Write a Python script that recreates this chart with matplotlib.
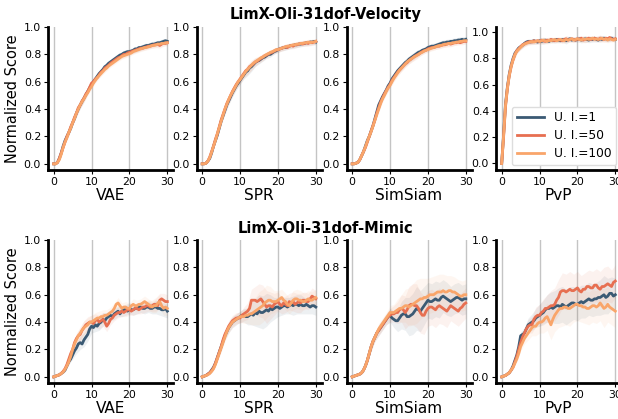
import numpy as np
import matplotlib
matplotlib.use("Agg")
import matplotlib.pyplot as plt

plt.rcParams['font.family'] = ['DejaVu Sans']

methods = ["VAE", "SPR", "SimSiam", "PvP"]
series_labels = ["U. I.=1", "U. I.=50", "U. I.=100"]
row_titles = ["LimX-Oli-31dof-Velocity", "LimX-Oli-31dof-Mimic"]
x_ticks = [0, 10, 20, 30]
y_ticks = [0.0, 0.2, 0.4, 0.6, 0.8, 1.0]
step = 0.5  # iterations (x) between recorded points

# ---------------- Velocity (top row) ----------------
vel_vae_1 = [0.00,0.00,0.01,0.04,0.08,0.13,0.17,0.20,0.23,0.26,
             0.30,0.33,0.37,0.40,0.43,0.455,0.48,0.505,0.53,0.555,
             0.58,0.60,0.62,0.64,0.66,0.675,0.69,0.71,0.72,0.735,
             0.745,0.755,0.765,0.775,0.785,0.795,0.80,0.81,0.815,0.82,
             0.82,0.825,0.83,0.84,0.84,0.85,0.85,0.855,0.86,0.865,
             0.865,0.87,0.875,0.875,0.88,0.885,0.885,0.89,0.895,0.90,
             0.895]
vel_vae_50 = [0.00,0.00,0.01,0.04,0.08,0.12,0.16,0.20,0.23,0.27,
              0.30,0.34,0.37,0.41,0.43,0.46,0.48,0.51,0.53,0.56,
              0.59,0.60,0.62,0.63,0.65,0.67,0.68,0.70,0.71,0.72,
              0.735,0.745,0.755,0.765,0.775,0.78,0.79,0.80,0.80,0.81,
              0.815,0.82,0.825,0.83,0.835,0.84,0.845,0.845,0.85,0.855,
              0.86,0.86,0.865,0.87,0.87,0.875,0.865,0.875,0.88,0.88,
              0.885]
vel_vae_100 = [0.00,0.00,0.01,0.03,0.07,0.12,0.16,0.19,0.23,0.26,
               0.30,0.33,0.37,0.40,0.43,0.455,0.475,0.50,0.52,0.545,
               0.565,0.59,0.61,0.63,0.645,0.66,0.675,0.69,0.70,0.715,
               0.725,0.735,0.745,0.755,0.765,0.775,0.785,0.79,0.795,0.80,
               0.805,0.81,0.82,0.825,0.83,0.835,0.84,0.845,0.85,0.85,
               0.855,0.86,0.865,0.865,0.87,0.875,0.875,0.88,0.88,0.885,
               0.885]

vel_spr_1 = [0.00,0.00,0.005,0.02,0.04,0.08,0.13,0.17,0.21,0.26,
             0.31,0.35,0.39,0.43,0.46,0.49,0.52,0.545,0.57,0.59,
             0.61,0.63,0.65,0.67,0.68,0.70,0.71,0.725,0.74,0.75,
             0.755,0.765,0.775,0.78,0.79,0.80,0.80,0.81,0.82,0.825,
             0.835,0.84,0.845,0.85,0.85,0.855,0.86,0.865,0.865,0.87,
             0.87,0.875,0.875,0.88,0.88,0.885,0.885,0.89,0.89,0.895,
             0.89]
vel_spr_50 = [0.00,0.00,0.005,0.02,0.05,0.09,0.13,0.18,0.22,0.27,
              0.32,0.36,0.40,0.44,0.47,0.50,0.53,0.555,0.58,0.60,
              0.62,0.64,0.66,0.68,0.69,0.71,0.72,0.73,0.745,0.75,
              0.76,0.77,0.78,0.79,0.795,0.805,0.81,0.815,0.825,0.83,
              0.835,0.84,0.845,0.85,0.855,0.85,0.86,0.865,0.86,0.87,
              0.87,0.875,0.88,0.875,0.88,0.885,0.88,0.89,0.885,0.89,
              0.895]
vel_spr_100 = [0.00,0.00,0.005,0.02,0.045,0.085,0.13,0.17,0.22,0.265,
               0.31,0.355,0.40,0.435,0.47,0.50,0.525,0.55,0.575,0.60,
               0.615,0.635,0.655,0.675,0.69,0.705,0.72,0.735,0.745,0.755,
               0.765,0.775,0.78,0.79,0.80,0.805,0.815,0.82,0.825,0.835,
               0.835,0.84,0.845,0.85,0.855,0.86,0.86,0.865,0.87,0.87,
               0.875,0.875,0.88,0.88,0.885,0.885,0.89,0.885,0.89,0.89,
               0.895]

vel_sim_1 = [0.00,0.00,0.005,0.01,0.03,0.06,0.09,0.13,0.17,0.20,
             0.24,0.28,0.33,0.38,0.43,0.46,0.49,0.515,0.54,0.57,
             0.59,0.62,0.64,0.66,0.68,0.695,0.71,0.725,0.74,0.75,
             0.765,0.775,0.785,0.795,0.805,0.815,0.82,0.83,0.835,0.84,
             0.85,0.855,0.86,0.86,0.865,0.87,0.875,0.88,0.885,0.885,
             0.89,0.89,0.895,0.895,0.90,0.90,0.905,0.905,0.91,0.905,
             0.91]
vel_sim_50 = [0.00,0.00,0.005,0.01,0.03,0.06,0.09,0.12,0.16,0.20,
              0.24,0.28,0.32,0.37,0.41,0.45,0.48,0.51,0.535,0.56,
              0.58,0.61,0.63,0.65,0.67,0.685,0.70,0.715,0.73,0.74,
              0.755,0.765,0.775,0.785,0.795,0.80,0.81,0.82,0.825,0.83,
              0.84,0.845,0.85,0.85,0.855,0.86,0.86,0.865,0.87,0.87,
              0.875,0.88,0.875,0.88,0.885,0.885,0.89,0.885,0.89,0.895,
              0.895]
vel_sim_100 = [0.00,0.00,0.005,0.01,0.03,0.06,0.09,0.125,0.165,0.20,
               0.235,0.275,0.32,0.36,0.40,0.44,0.475,0.50,0.53,0.555,
               0.575,0.60,0.625,0.645,0.665,0.685,0.70,0.715,0.73,0.745,
               0.755,0.765,0.775,0.785,0.79,0.80,0.81,0.815,0.825,0.83,
               0.835,0.84,0.845,0.85,0.855,0.86,0.865,0.865,0.87,0.875,
               0.875,0.88,0.88,0.885,0.885,0.89,0.89,0.895,0.895,0.90,
               0.90]

vel_pvp_1 = [0.00,0.22,0.45,0.58,0.68,0.75,0.80,0.84,0.86,0.88,
             0.89,0.90,0.915,0.925,0.93,0.925,0.93,0.935,0.93,0.925,
             0.935,0.93,0.935,0.94,0.935,0.93,0.94,0.935,0.94,0.945,
             0.94,0.935,0.945,0.94,0.935,0.945,0.95,0.94,0.945,0.94,
             0.945,0.95,0.94,0.945,0.95,0.945,0.94,0.95,0.945,0.955,
             0.945,0.94,0.95,0.945,0.955,0.95,0.945,0.95,0.955,0.945,
             0.945]
vel_pvp_50 = [0.00,0.20,0.43,0.57,0.67,0.74,0.79,0.83,0.86,0.875,
              0.89,0.905,0.91,0.92,0.925,0.93,0.925,0.935,0.93,0.935,
              0.93,0.94,0.935,0.93,0.94,0.935,0.945,0.94,0.935,0.94,
              0.945,0.94,0.935,0.945,0.95,0.94,0.945,0.95,0.945,0.94,
              0.95,0.945,0.955,0.94,0.945,0.95,0.955,0.945,0.95,0.955,
              0.95,0.945,0.955,0.95,0.945,0.955,0.95,0.96,0.95,0.945,
              0.95]
vel_pvp_100 = [0.00,0.21,0.44,0.57,0.67,0.74,0.79,0.83,0.855,0.87,
               0.885,0.90,0.91,0.915,0.92,0.925,0.93,0.925,0.93,0.935,
               0.93,0.935,0.94,0.935,0.93,0.94,0.935,0.94,0.945,0.935,
               0.94,0.945,0.94,0.935,0.945,0.94,0.945,0.95,0.94,0.945,
               0.95,0.945,0.94,0.95,0.945,0.95,0.945,0.95,0.955,0.945,
               0.95,0.945,0.95,0.955,0.945,0.95,0.94,0.95,0.945,0.94,
               0.945]

# ---------------- Mimic (bottom row) ----------------
mim_vae_1 = [0.00,0.005,0.01,0.015,0.025,0.035,0.05,0.08,0.11,0.13,
             0.16,0.19,0.21,0.24,0.25,0.24,0.27,0.29,0.31,0.35,
             0.37,0.36,0.38,0.37,0.39,0.40,0.42,0.41,0.43,0.44,
             0.45,0.44,0.46,0.47,0.48,0.46,0.48,0.49,0.49,0.48,
             0.50,0.49,0.49,0.50,0.50,0.51,0.51,0.50,0.50,0.51,
             0.51,0.50,0.50,0.51,0.51,0.50,0.50,0.49,0.49,0.50,
             0.48]
mim_vae_50 = [0.00,0.005,0.01,0.015,0.025,0.04,0.06,0.09,0.13,0.17,
              0.20,0.25,0.28,0.30,0.31,0.34,0.36,0.38,0.39,0.40,
              0.40,0.39,0.41,0.42,0.40,0.41,0.42,0.40,0.37,0.39,
              0.42,0.43,0.45,0.46,0.47,0.47,0.48,0.47,0.48,0.49,
              0.49,0.48,0.49,0.50,0.50,0.49,0.50,0.51,0.51,0.52,
              0.52,0.51,0.52,0.53,0.53,0.52,0.56,0.57,0.56,0.55,
              0.55]
mim_vae_100 = [0.00,0.005,0.01,0.015,0.025,0.035,0.055,0.08,0.11,0.15,
               0.20,0.24,0.27,0.30,0.32,0.34,0.36,0.37,0.38,0.40,
               0.40,0.41,0.42,0.43,0.43,0.44,0.44,0.45,0.45,0.46,
               0.47,0.48,0.50,0.53,0.54,0.52,0.50,0.51,0.51,0.50,
               0.50,0.52,0.53,0.52,0.52,0.53,0.53,0.54,0.55,0.54,
               0.53,0.52,0.51,0.52,0.52,0.54,0.55,0.52,0.50,0.51,
               0.50]

mim_spr_1 = [0.00,0.005,0.01,0.02,0.03,0.05,0.07,0.10,0.14,0.18,
             0.22,0.26,0.30,0.33,0.36,0.38,0.40,0.41,0.42,0.43,
             0.44,0.45,0.45,0.44,0.44,0.45,0.46,0.45,0.47,0.46,
             0.48,0.47,0.47,0.48,0.49,0.48,0.50,0.49,0.50,0.51,
             0.51,0.50,0.51,0.52,0.52,0.51,0.52,0.53,0.52,0.53,
             0.53,0.52,0.53,0.52,0.52,0.53,0.52,0.51,0.52,0.52,
             0.51]
mim_spr_50 = [0.00,0.005,0.01,0.02,0.03,0.045,0.065,0.10,0.14,0.18,
              0.22,0.27,0.31,0.34,0.37,0.39,0.41,0.42,0.43,0.43,
              0.43,0.45,0.46,0.47,0.48,0.50,0.56,0.56,0.56,0.55,
              0.56,0.57,0.55,0.53,0.51,0.52,0.52,0.51,0.53,0.54,
              0.55,0.53,0.52,0.54,0.53,0.52,0.55,0.54,0.55,0.53,
              0.54,0.55,0.54,0.56,0.56,0.55,0.55,0.57,0.59,0.58,
              0.57]
mim_spr_100 = [0.00,0.005,0.01,0.015,0.025,0.04,0.06,0.09,0.13,0.17,
               0.21,0.25,0.29,0.33,0.36,0.38,0.40,0.41,0.42,0.43,
               0.44,0.44,0.44,0.45,0.45,0.46,0.46,0.47,0.48,0.49,
               0.50,0.51,0.52,0.54,0.55,0.56,0.56,0.55,0.55,0.55,
               0.56,0.57,0.58,0.56,0.55,0.53,0.52,0.54,0.56,0.57,
               0.57,0.56,0.56,0.55,0.55,0.56,0.57,0.56,0.56,0.57,
               0.58]

mim_sim_1 = [0.00,0.005,0.01,0.015,0.02,0.03,0.05,0.08,0.12,0.17,
             0.22,0.26,0.29,0.32,0.34,0.36,0.38,0.40,0.42,0.44,
             0.45,0.43,0.42,0.41,0.41,0.43,0.45,0.46,0.46,0.44,
             0.44,0.45,0.46,0.48,0.50,0.49,0.48,0.50,0.52,0.54,
             0.56,0.55,0.55,0.56,0.57,0.56,0.56,0.58,0.59,0.58,
             0.57,0.56,0.55,0.56,0.57,0.58,0.58,0.57,0.56,0.57,
             0.57]
mim_sim_50 = [0.00,0.005,0.01,0.015,0.02,0.03,0.05,0.08,0.12,0.17,
              0.22,0.26,0.29,0.32,0.34,0.36,0.38,0.40,0.42,0.44,
              0.45,0.46,0.46,0.47,0.47,0.49,0.50,0.49,0.47,0.49,
              0.52,0.53,0.53,0.52,0.52,0.50,0.47,0.45,0.45,0.48,
              0.50,0.51,0.51,0.50,0.49,0.51,0.52,0.51,0.50,0.49,
              0.48,0.50,0.52,0.51,0.50,0.49,0.48,0.50,0.51,0.53,
              0.54]
mim_sim_100 = [0.00,0.005,0.01,0.015,0.02,0.03,0.05,0.08,0.12,0.17,
               0.22,0.26,0.29,0.32,0.35,0.37,0.39,0.41,0.43,0.45,
               0.47,0.47,0.47,0.48,0.49,0.50,0.50,0.51,0.52,0.52,
               0.51,0.52,0.53,0.54,0.55,0.56,0.57,0.57,0.58,0.58,
               0.59,0.60,0.60,0.60,0.61,0.62,0.62,0.62,0.63,0.62,
               0.62,0.63,0.63,0.62,0.62,0.61,0.60,0.59,0.59,0.60,
               0.60]

mim_pvp_1 = [0.00,0.005,0.01,0.02,0.03,0.05,0.08,0.12,0.16,0.22,
             0.30,0.31,0.32,0.35,0.38,0.39,0.40,0.41,0.43,0.44,
             0.45,0.46,0.47,0.49,0.50,0.50,0.51,0.50,0.51,0.52,
             0.52,0.51,0.53,0.52,0.51,0.52,0.53,0.54,0.54,0.53,
             0.53,0.54,0.55,0.54,0.55,0.56,0.57,0.56,0.56,0.57,
             0.57,0.58,0.58,0.59,0.60,0.58,0.59,0.61,0.61,0.59,
             0.60]
mim_pvp_50 = [0.00,0.005,0.01,0.02,0.03,0.05,0.07,0.11,0.15,0.20,
              0.25,0.29,0.32,0.35,0.37,0.38,0.38,0.42,0.44,0.45,
              0.45,0.47,0.48,0.50,0.50,0.51,0.52,0.52,0.53,0.56,
              0.58,0.62,0.63,0.63,0.62,0.63,0.64,0.63,0.63,0.64,
              0.65,0.63,0.62,0.64,0.64,0.66,0.66,0.65,0.65,0.67,
              0.67,0.65,0.64,0.66,0.66,0.67,0.68,0.67,0.66,0.69,
              0.70]
mim_pvp_100 = [0.00,0.005,0.01,0.02,0.03,0.05,0.07,0.10,0.13,0.17,
               0.22,0.25,0.28,0.30,0.32,0.34,0.36,0.37,0.37,0.39,
               0.40,0.40,0.41,0.43,0.44,0.41,0.38,0.42,0.45,0.47,
               0.49,0.50,0.50,0.51,0.51,0.50,0.50,0.51,0.52,0.53,
               0.53,0.52,0.52,0.51,0.51,0.50,0.50,0.51,0.52,0.52,
               0.51,0.52,0.54,0.52,0.50,0.51,0.53,0.51,0.50,0.49,
               0.48]

# spread (std band half-width), one value per integer x, shared by a panel's curves
spread_vel = {
    "VAE": [0.0,0.005,0.01,0.015,0.02,0.02,0.025,0.025,0.025,0.02,0.02,0.02,0.02,0.02,0.02,0.02,
            0.02,0.02,0.02,0.02,0.02,0.02,0.02,0.02,0.02,0.02,0.02,0.02,0.02,0.02,0.02],
    "SPR": [0.0,0.005,0.01,0.015,0.02,0.025,0.03,0.03,0.03,0.03,0.03,0.03,0.035,0.035,0.03,0.025,
            0.025,0.02,0.02,0.02,0.02,0.02,0.02,0.02,0.02,0.02,0.02,0.02,0.02,0.02,0.02],
    "SimSiam": [0.0,0.005,0.01,0.015,0.02,0.02,0.02,0.025,0.025,0.025,0.025,0.025,0.025,0.025,0.025,0.025,
                0.025,0.025,0.02,0.02,0.02,0.02,0.02,0.02,0.02,0.02,0.02,0.02,0.02,0.02,0.02],
    "PvP": [0.0,0.03,0.03,0.025,0.02,0.02,0.02,0.02,0.02,0.02,0.02,0.025,0.02,0.02,0.02,0.02,
            0.02,0.025,0.02,0.02,0.02,0.02,0.025,0.02,0.02,0.02,0.025,0.02,0.02,0.02,0.02],
}
spread_mim = {
    "VAE": [0.0,0.005,0.01,0.015,0.02,0.03,0.04,0.05,0.05,0.05,0.05,0.05,0.05,0.05,0.04,0.04,
            0.04,0.04,0.04,0.04,0.04,0.04,0.04,0.04,0.04,0.04,0.04,0.05,0.05,0.05,0.05],
    "SPR": [0.0,0.005,0.01,0.015,0.02,0.03,0.03,0.04,0.04,0.04,0.04,0.05,0.06,0.08,0.10,0.12,
            0.12,0.12,0.10,0.08,0.07,0.06,0.06,0.06,0.07,0.07,0.07,0.06,0.06,0.06,0.06],
    "SimSiam": [0.0,0.005,0.01,0.015,0.02,0.03,0.03,0.04,0.04,0.04,0.05,0.06,0.08,0.10,0.12,0.14,
                0.15,0.16,0.15,0.14,0.13,0.13,0.13,0.13,0.12,0.12,0.11,0.11,0.11,0.11,0.11],
    "PvP": [0.0,0.005,0.01,0.015,0.02,0.03,0.04,0.05,0.06,0.07,0.08,0.09,0.10,0.11,0.12,0.13,
            0.13,0.13,0.13,0.12,0.12,0.12,0.12,0.12,0.12,0.12,0.13,0.14,0.13,0.12,0.12],
}

velocity = {
    "VAE": [vel_vae_1, vel_vae_50, vel_vae_100],
    "SPR": [vel_spr_1, vel_spr_50, vel_spr_100],
    "SimSiam": [vel_sim_1, vel_sim_50, vel_sim_100],
    "PvP": [vel_pvp_1, vel_pvp_50, vel_pvp_100],
}
mimic = {
    "VAE": [mim_vae_1, mim_vae_50, mim_vae_100],
    "SPR": [mim_spr_1, mim_spr_50, mim_spr_100],
    "SimSiam": [mim_sim_1, mim_sim_50, mim_sim_100],
    "PvP": [mim_pvp_1, mim_pvp_50, mim_pvp_100],
}

colors = ["#3b5a74", "#e76f51", "#f9a56a"]

W, H = 618, 419
fig = plt.figure(figsize=(W / 100, H / 100), dpi=100)

lefts_px = [48, 196.5, 346.5, 496]
width_px = 125
rows = [(velocity, spread_vel, 27, 170), (mimic, spread_mim, 240, 383)]

for r, (data, spreads, top_px, bot_px) in enumerate(rows):
    for c, m in enumerate(methods):
        ax = fig.add_axes([lefts_px[c] / W, 1 - bot_px / H, width_px / W, (bot_px - top_px) / H])
        sp = np.array(spreads[m])
        xi = np.arange(len(sp))
        for k, ys in enumerate(data[m]):
            ys = np.array(ys)
            x = np.arange(len(ys)) * step
            mean_i = ys[::2]
            ax.fill_between(xi, mean_i - sp, mean_i + sp, color=colors[k], alpha=0.09, lw=0)
            ax.plot(x, ys, color=colors[k], lw=2.0, label=series_labels[k])
        ax.set_xlim(-1.5, 31.5)
        if r == 0 and m == "PvP":
            ax.set_ylim(-0.05, 1.04)
        else:
            ax.set_ylim(-0.045, 1.0)
        ax.set_xticks(x_ticks)
        ax.set_yticks(y_ticks)
        ax.set_yticklabels([f"{v:.1f}" for v in y_ticks])
        ax.grid(axis="x", color="#c4c4c4", lw=1.0)
        ax.set_axisbelow(True)
        for s in ["top", "right"]:
            ax.spines[s].set_visible(False)
        for s in ["left", "bottom"]:
            ax.spines[s].set_linewidth(2.0)
            ax.spines[s].set_color("black")
        ax.tick_params(labelsize=7.8, length=3, width=0.8, pad=2)
        ax.set_xlabel(m, fontsize=11, labelpad=1)
        if c == 0:
            ax.set_ylabel("Normalized Score", fontsize=10.5, labelpad=3)
        if r == 0 and m == "PvP":
            ax.legend(loc="lower right", fontsize=8.8, handlelength=2.2, frameon=True,
                      framealpha=1.0, edgecolor="#dddddd", borderpad=0.4, labelspacing=0.4,
                      borderaxespad=0.4)

fig.text(0.527, 1 - 15 / H, row_titles[0], ha="center", va="center", fontsize=10.5, fontweight="bold")
fig.text(0.527, 1 - 228 / H, row_titles[1], ha="center", va="center", fontsize=10.5, fontweight="bold")

fig.savefig("out.png", dpi=100)
